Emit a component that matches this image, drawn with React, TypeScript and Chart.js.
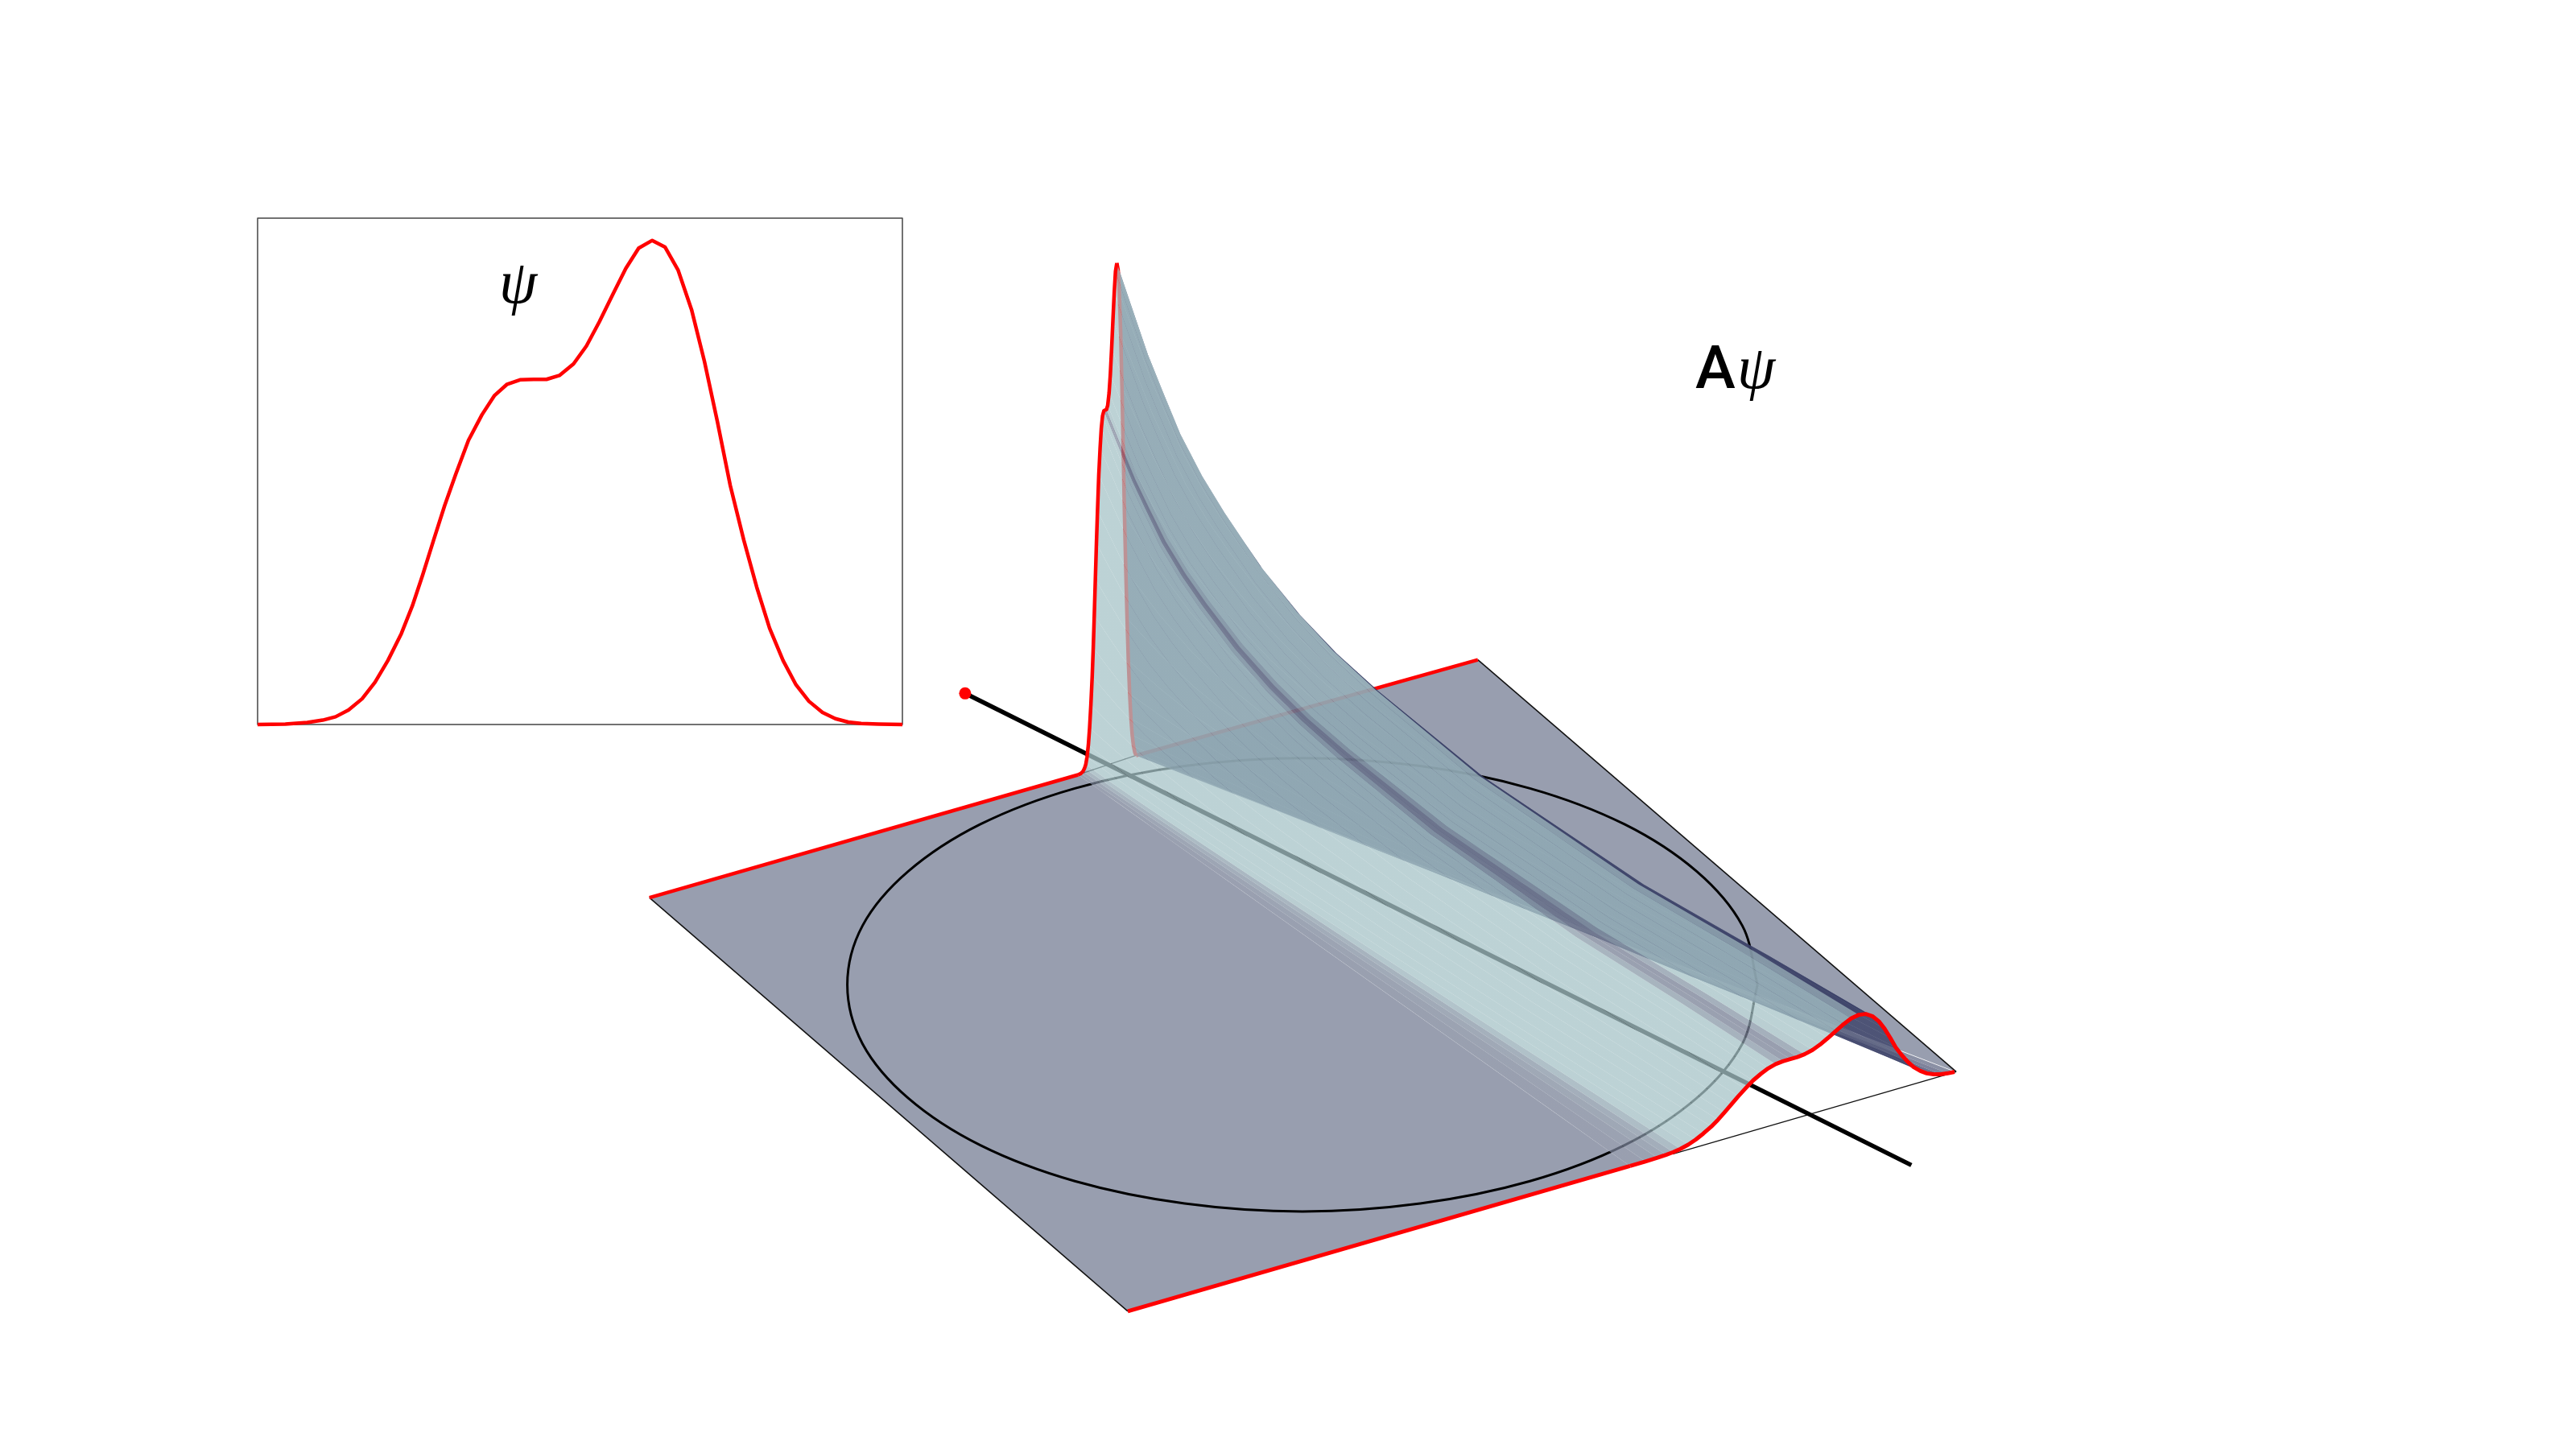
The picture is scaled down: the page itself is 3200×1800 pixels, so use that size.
import React, { useEffect, useRef } from "react";
import { Chart, registerables } from "chart.js";

Chart.register(...registerables);

// Profile psi(u)
const psiU = [0, .043, .077, .101, .121, .141, .162, .182, .202, .223, .24, .256, .273, .29, .307, .327, .348, .367, .387, .407, .428, .448, .468, .49, .51, .53, .551, .571, .591, .612, .632, .652, .673, .693, .713, .733, .754, .774, .794, .815, .835, .855, .876, .896, .916, .936, .963, 1];
const psiV = [0, .001, .004, .009, .016, .03, .053, .087, .132, .188, .245, .309, .381, .452, .516, .587, .64, .679, .703, .712, .713, .713, .721, .745, .782, .832, .889, .942, .984, 1, .986, .939, .857, .75, .626, .494, .381, .284, .199, .132, .082, .048, .025, .012, .005, .002, .001, 0];
const insetTop = 1.046;
const sheetEndIndex = 44; // the sheet's corner cuts the fan at this profile sample

// Decay of the profile height with depth across the fan
const fanDepth = [0, .0176, .042, .0615, .0857, .115, .145, .193, .243, .292, .348, .487, .703, .861, 1];
const fanHeight = [627, 586, 530, 493, 449, 409, 376, 330, 293, 265, 241, 193, 148, 130, 111];
const fanLean = 15;

// Projected sheet outline
const sheetA = { x: 803, y: 1117 };
const sheetB = { x: 1400, y: 1635 };
const sheetC = { x: 2434, y: 1335 };
const sheetD = { x: 1837, y: 819 };
const fanBackL = { x: 1338, y: 963 };
const fanBackR = { x: 1417, y: 940 };
const fanFrontL = { x: 2027, y: 1453 };
const fanFrontR = { x: 2469, y: 1325 };
const frontRise = { x: 2080, y: 1438 };

// Circle drawn on the sheet
const circleX = [2186, 2167, 2110, 2020, 1902, 1765, 1618, 1471, 1334, 1216, 1126, 1069, 1050, 1069, 1126, 1216, 1334, 1471, 1618, 1765, 1902, 2020, 2110, 2167, 2186];
const circleY = [1226, 1300, 1368, 1427, 1472, 1500, 1510, 1500, 1472, 1427, 1368, 1300, 1226, 1152, 1084, 1025, 980, 952, 942, 952, 980, 1025, 1084, 1152, 1226];

// Central ray
const rayStart = { x: 1197, y: 861 };
const rayEnd = { x: 2378, y: 1452 };

const planeColor = "rgb(152,158,175)";
const layerFlat = [118, 126, 148];
const layerLit = [166, 195, 199];
const layerShade = [42, 47, 90];
const layerAlpha = 0.75;

const lerp = (a: number, b: number, t: number) => a + (b - a) * t;
const lerpP = (a: any, b: any, t: number) => ({ x: lerp(a.x, b.x, t), y: lerp(a.y, b.y, t) });
const dist = (a: any, b: any) => Math.hypot(a.x - b.x, a.y - b.y);

function surf(i: number, j: number) {
  const f = fanDepth[j];
  const L = lerpP(fanBackL, fanFrontL, f);
  const R = lerpP(fanBackR, fanFrontR, f);
  const b = lerpP(L, R, psiU[i]);
  return { x: b.x + fanLean * f * psiV[i], y: b.y - fanHeight[j] * psiV[i] };
}

function strip(i: number) {
  const out: any[] = [];
  for (let j = 0; j < fanDepth.length; j++) out.push(surf(i, j));
  for (let j = fanDepth.length - 1; j >= 0; j--) out.push(surf(i + 1, j));
  out.push(surf(i, 0));
  return out;
}

function stripFill(ctx: CanvasRenderingContext2D, i: number) {
  const s = (psiV[i + 1] - psiV[i]) / (psiU[i + 1] - psiU[i]);
  const to = s >= 0 ? layerLit : layerShade;
  const mid = (j: number) => lerpP(surf(i, j), surf(i + 1, j), 0.5);
  const last = fanDepth.length - 1;
  const p0 = mid(0);
  const p1 = mid(last);
  const ax = p1.x - p0.x;
  const ay = p1.y - p0.y;
  const len2 = ax * ax + ay * ay;
  const g = ctx.createLinearGradient(p0.x, p0.y, p1.x, p1.y);
  let prev = 0;
  for (let j = 0; j <= last; j++) {
    const m = mid(j);
    const off = Math.max(prev, Math.min(1, ((m.x - p0.x) * ax + (m.y - p0.y) * ay) / len2));
    prev = off;
    const width = dist(lerpP(fanBackL, fanFrontL, fanDepth[j]), lerpP(fanBackR, fanFrontR, fanDepth[j]));
    const steep = Math.pow(fanHeight[j] / width, 0.3);
    const t = Math.min(1, (Math.abs(s) * steep) / 0.8) * (s >= 0 ? 1 : 0.85);
    const c = layerFlat.map((v, k) => Math.round(lerp(v, to[k], t)));
    g.addColorStop(off, `rgba(${c[0]},${c[1]},${c[2]},${layerAlpha})`);
  }
  return g;
}

const poly = (data: any[], color: any) => ({
  data, showLine: true, fill: "shape", backgroundColor: color,
  borderWidth: 0, borderColor: "transparent", pointRadius: 0, tension: 0,
});
const line = (data: any[], color: string, width: number, tension = 0) => ({
  data, showLine: true, fill: false, borderColor: color, backgroundColor: color,
  borderWidth: width, pointRadius: 0, tension, borderCapStyle: "butt", borderJoinStyle: "round",
});

function buildMain(ctx: CanvasRenderingContext2D) {
  const peak = psiV.indexOf(1);
  const lastJ = fanDepth.length - 1;
  const profile = (j: number, a: number, b: number) => {
    const o: any[] = [];
    for (let i = a; i <= b; i++) o.push(surf(i, j));
    return o;
  };
  const backEnd = surf(sheetEndIndex, 0);
  const sets: any[] = [];
  // flat sheet on both sides of the fan
  sets.push(poly([sheetA, fanBackL, fanFrontL, sheetB, sheetA], planeColor));
  sets.push(poly([backEnd, sheetD, sheetC, backEnd], planeColor));
  // thin outlines
  sets.push(line([sheetA, sheetB], "#111", 1.5));
  sets.push(line([sheetD, sheetC], "#111", 1.5));
  sets.push(line([frontRise, sheetC], "#111", 1.3));
  sets.push(line([fanBackL, backEnd], "#111", 1.3));
  // lines lying under the raised surface
  sets.push(line(circleX.map((x, i) => ({ x, y: circleY[i] })), "#000", 3, 0.35));
  sets.push(line([rayStart, rayEnd], "#000", 5.5));
  sets.push(line([sheetA, fanBackL], "#f00", 4.5));
  sets.push(line([backEnd, sheetD], "#f00", 4.5));
  // far slope of the surface
  for (let i = peak; i < sheetEndIndex; i++) sets.push(poly(strip(i), stripFill(ctx, i)));
  sets.push(line(profile(0, peak, sheetEndIndex), "#f00", 4.5));
  // near slope
  for (let i = 0; i < peak; i++) sets.push(poly(strip(i), stripFill(ctx, i)));
  // bright edges on top
  sets.push(line(profile(0, 0, peak), "#f00", 4.5));
  sets.push(line(profile(lastJ, 0, sheetEndIndex), "#f00", 5));
  sets.push(line([sheetB, fanFrontL], "#f00", 5));
  sets.push({
    data: [rayStart], showLine: false, pointRadius: 7.5, pointBackgroundColor: "#f00",
    pointBorderWidth: 0,
  });
  const n = sets.length;
  sets.forEach((s, i) => { s.order = n - i; });
  return sets;
}

const baseOptions = (x: any, y: any, padding: any): any => ({
  responsive: false,
  animation: false,
  layout: { padding },
  plugins: { legend: { display: false }, tooltip: { enabled: false }, title: { display: false } },
  scales: { x: { type: "linear", display: false, ...x }, y: { type: "linear", display: false, ...y } },
});

const textStyle = (left: number, top: number, font: string): React.CSSProperties => ({
  position: "absolute", left, top, font, lineHeight: 1, color: "#000", whiteSpace: "nowrap",
});

export default function App() {
  const mainRef = useRef<HTMLCanvasElement>(null);
  const insetRef = useRef<HTMLCanvasElement>(null);

  useEffect(() => {
    const mainCtx = mainRef.current!.getContext("2d")!;
    const main = new Chart(mainRef.current!, {
      type: "scatter",
      data: { datasets: buildMain(mainCtx) },
      options: baseOptions({ min: 0, max: 3200 }, { min: 0, max: 1800, reverse: true }, 0),
    });
    const inset = new Chart(insetRef.current!, {
      type: "scatter",
      data: {
        datasets: [
          {
            ...line(psiU.map((x, i) => ({ x, y: psiV[i] })), "#f00", 4.5),
            clip: false, order: 0,
          },
          {
            ...line([{ x: 0, y: 0 }, { x: 1, y: 0 }, { x: 1, y: insetTop }, { x: 0, y: insetTop }, { x: 0, y: 0 }], "#444", 1.5),
            clip: false, order: 1,
          },
        ] as any,
      },
      options: baseOptions({ min: 0, max: 1 }, { min: 0, max: insetTop }, { left: 20, right: 29, top: 21, bottom: 20 }),
    });
    return () => { main.destroy(); inset.destroy(); };
  }, []);

  return (
    <div style={{ position: "fixed", left: 0, top: 0, width: 3200, height: 1800, overflow: "hidden", background: "#fff" }}>
      <canvas ref={mainRef} width={3200} height={1800} style={{ position: "absolute", left: 0, top: 0, width: 3200, height: 1800 }} />
      <canvas ref={insetRef} width={850} height={670} style={{ position: "absolute", left: 300, top: 250, width: 850, height: 670 }} />
      <span style={textStyle(620, 312, "italic 76px 'Liberation Serif'")}>ψ</span>
      <span style={textStyle(2106, 419, "500 75px Roboto")}>A</span>
      <span style={textStyle(2158, 418, "italic 76px 'Liberation Serif'")}>ψ</span>
    </div>
  );
}
